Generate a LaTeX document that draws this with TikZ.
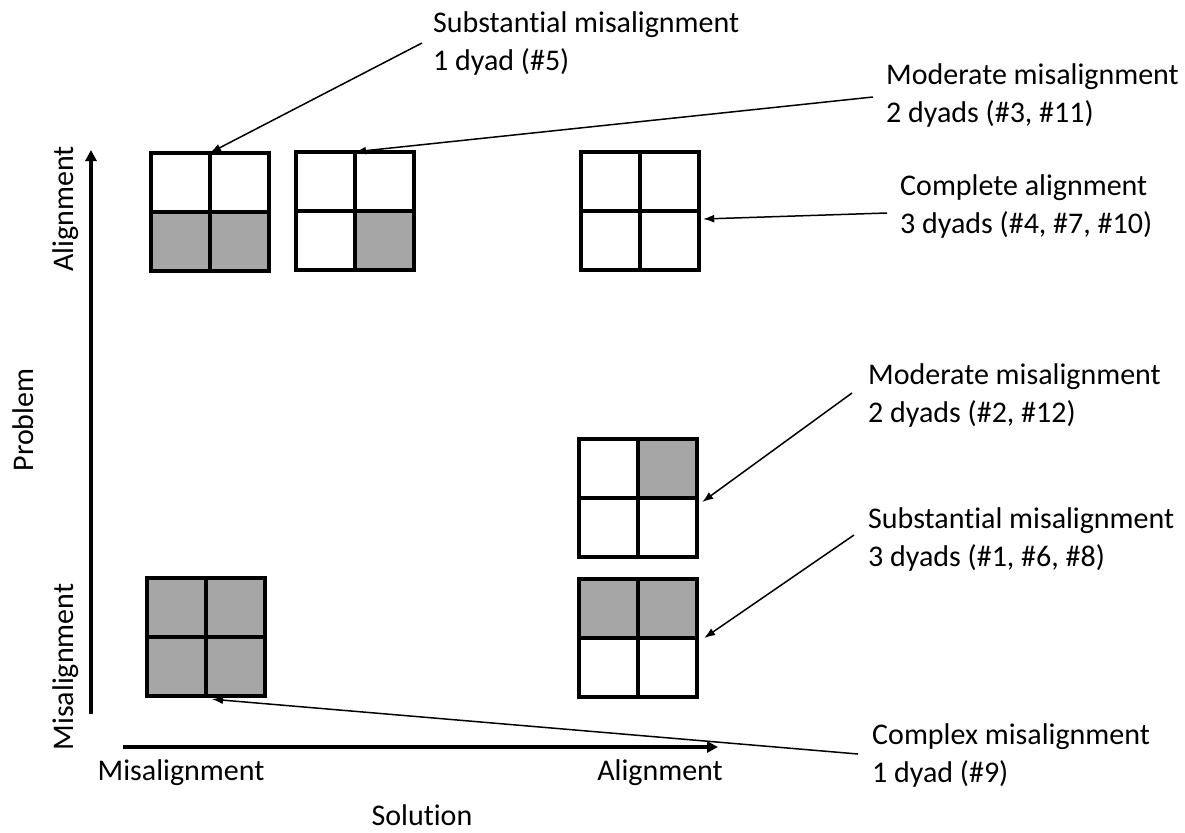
\documentclass[tikz,border=0pt]{standalone}
\usepackage{fontspec}
\setmainfont{Carlito}[Ligatures={NoCommon,NoContextual}]
\usetikzlibrary{arrows.meta,calc}
\definecolor{cellgray}{HTML}{A6A6A6}
\newcommand{\twolines}[2]{\begin{tabular}[t]{@{}l@{}}#1\\#2\end{tabular}}
\newcommand{\dyadgrid}[7]{%
  \node[gridnode] (#1) at (#2,#3) {};
  \fill[#4] (#1.north west) rectangle (#1.center);
  \fill[#5] (#1.north) rectangle (#1.east);
  \fill[#6] (#1.west) rectangle (#1.south);
  \fill[#7] (#1.center) rectangle (#1.south east);
  \draw[gridline] (#1.north west) rectangle (#1.south east)
    (#1.north) -- (#1.south) (#1.west) -- (#1.east);
}
\begin{document}
\begin{tikzpicture}[x=1pt,y=-1pt,
  gridnode/.style={rectangle,minimum size=118pt,inner sep=0pt},
  gridline/.style={draw=black,line width=4pt,line join=miter},
  lbl/.style={font=\fontsize{30}{38}\selectfont,inner sep=0pt,anchor=base west,text=black},
  axlbl/.style={font=\fontsize{30}{38}\selectfont,inner sep=0pt,anchor=base,text=black},
  axis/.style={line width=3.5pt,-{Triangle[length=11pt,width=11pt]}},
  pointer/.style={line width=1.5pt,-{Latex[length=11pt,width=8pt]}}]
\useasboundingbox[fill=white] (0,0) rectangle (1185,832);

% grids
\dyadgrid{g1}{210}{212}{white}{white}{cellgray}{cellgray}
\dyadgrid{g2}{355}{211}{white}{white}{white}{cellgray}
\dyadgrid{g3}{640}{211}{white}{white}{white}{white}
\dyadgrid{g4}{638}{498}{white}{cellgray}{white}{white}
\dyadgrid{g5}{638}{638}{cellgray}{cellgray}{white}{white}
\dyadgrid{g6}{206}{637}{cellgray}{cellgray}{cellgray}{cellgray}

% axes
\coordinate (yaxbot) at (91,714);
\coordinate (yaxtop) at (91,150);
\coordinate (xaxleft) at (123,747);
\coordinate (xaxright) at (718,747);
\draw[axis] (yaxbot) -- (yaxtop);
\draw[axis] (xaxleft) -- (xaxright);

% axis labels
\node[axlbl] (xmis) at (181,780) {Misalignment};
\node[axlbl] (xal) at (660,780) {Alignment};
\node[axlbl] (xsol) at (422,825) {Solution};
\node[axlbl,rotate=90] (yal) at (73,209) {Alignment};
\node[axlbl,rotate=90] (yprob) at (33,420) {Problem};
\node[axlbl,rotate=90] (ymis) at (73,667) {Misalignment};

% annotation labels
\node[lbl] (l1) at (433,33) {\twolines{Substantial misalignment}{1 dyad (\#5)}};
\node[lbl] (l2) at (886,85) {\twolines{Moderate misalignment}{2 dyads (\#3, \#11)}};
\node[lbl] (l3) at (900,195) {\twolines{Complete alignment}{3 dyads (\#4, \#7, \#10)}};
\node[lbl] (l4) at (868,384) {\twolines{Moderate misalignment}{2 dyads (\#2, \#12)}};
\node[lbl] (l5) at (868,528) {\twolines{Substantial misalignment}{3 dyads (\#1, \#6, \#8)}};
\node[lbl] (l6) at (872,744) {\twolines{Complex misalignment}{1 dyad (\#9)}};

% pointers
\draw[pointer] ($(l1.base west)+(-11,10)$) -- (g1.north);
\draw[pointer] ($(l2.base west)+(-13,12)$) -- (g2.north);
\draw[pointer] ($(l3.base west)+(-13,18)$) -- ($(g3.east)+(4,8)$);
\draw[pointer] ($(l4.base west)+(-16,9)$) -- ($(g4.east)+(5,4)$);
\draw[pointer] ($(l5.base west)+(-14,7)$) -- ($(g5.east)+(7,0)$);
\draw[pointer] ($(l6.base west)+(-14,10)$) -- ($(g6.south)+(6,3)$);
\end{tikzpicture}
\end{document}
